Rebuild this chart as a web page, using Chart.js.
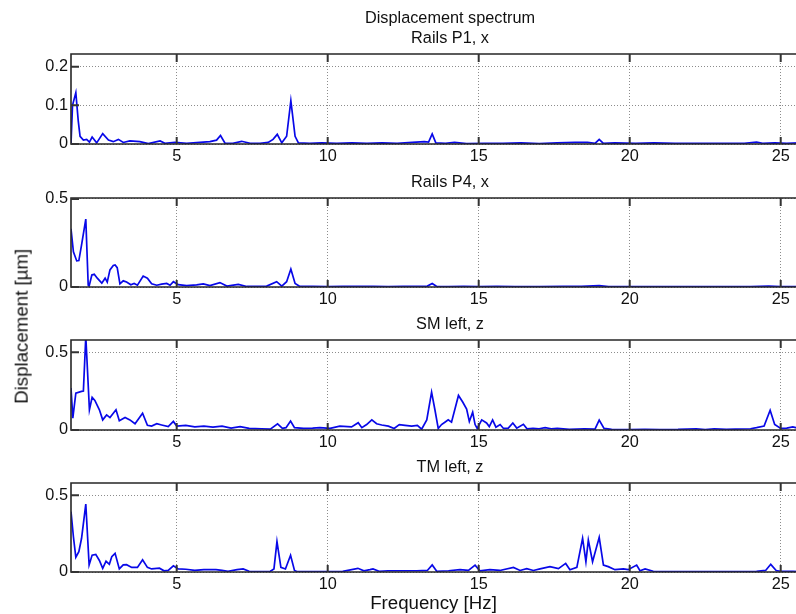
<!DOCTYPE html>
<html>
<head>
<meta charset="utf-8">
<script src="https://cdn.jsdelivr.net/npm/chart.js@4.4.1/dist/chart.umd.min.js"></script>
<style>
html, body { margin: 0; padding: 0; width: 796px; height: 614px; overflow: hidden; background: #fff; }
canvas { position: absolute; left: 0; }
.lbl { position: absolute; font-family: 'Liberation Sans', Arial, sans-serif; font-size: 18.7px; line-height: 1; color: #111; white-space: nowrap; text-align: center; width: 300px; }
</style>
</head>
<body>
<canvas id="p1"></canvas>
<canvas id="p2"></canvas>
<canvas id="p3"></canvas>
<canvas id="p4"></canvas>
<div class="lbl" style="left:283.5px; top:594px;">Frequency [Hz]</div>
<div class="lbl" style="left:-128.5px; top:316.65px; transform:rotate(-90deg);">Displacement [µm]</div>
<script>
// frequency grid ticks
var xTicks = [5, 10, 15, 20, 25];

// Rails P1, x
var freq1 = [1.5, 1.55, 1.66, 1.74, 1.8, 1.91, 2.02, 2.11, 2.2, 2.35, 2.55, 2.74, 2.9, 3.07, 3.23, 3.45, 3.78, 4.06, 4.45, 4.61,
    4.94, 5.33, 5.77, 6.1, 6.32, 6.45, 6.6, 6.86, 7.15, 7.43, 7.76, 8.03, 8.19, 8.33, 8.48, 8.64, 8.78, 8.92, 9.03, 9.4,
    9.8, 10.3, 10.8, 11.3, 11.8, 12.3, 12.8, 13.2, 13.34, 13.46, 13.58, 13.9, 14.2, 14.6, 15.2, 15.8, 16.4, 17.0, 17.6, 18.2,
    18.6, 18.86, 18.99, 19.12, 19.5, 20.2, 20.8, 21.5, 22.2, 23.0, 23.8, 24.2, 24.4, 24.8, 25.2, 25.6];
var disp1 = [0.0, 0.1, 0.133, 0.06, 0.02, 0.01, 0.012, 0.005, 0.018, 0.003, 0.027, 0.01, 0.006, 0.012, 0.004, 0.008, 0.006, 0.001, 0.008, 0.002,
    0.004, 0.002, 0.004, 0.006, 0.01, 0.022, 0.002, 0.002, 0.007, 0.002, 0.002, 0.004, 0.012, 0.025, 0.003, 0.02, 0.112, 0.02, 0.003, 0.002,
    0.003, 0.002, 0.003, 0.002, 0.003, 0.002, 0.004, 0.006, 0.005, 0.026, 0.003, 0.002, 0.004, 0.001, 0.002, 0.002, 0.003, 0.001, 0.003, 0.004,
    0.004, 0.002, 0.012, 0.002, 0.003, 0.002, 0.003, 0.002, 0.002, 0.002, 0.002, 0.005, 0.002, 0.003, 0.002, 0.003];

// Rails P4, x
var freq2 = [1.5, 1.58, 1.69, 1.76, 1.85, 1.99, 2.07, 2.1, 2.19, 2.27, 2.37, 2.52, 2.63, 2.7, 2.79, 2.9, 2.96, 3.03, 3.12, 3.23,
    3.34, 3.48, 3.59, 3.7, 3.89, 4.03, 4.17, 4.34, 4.5, 4.67, 4.78, 4.89, 5.05, 5.33, 5.66, 5.88, 6.1, 6.43, 6.66, 7.04,
    7.32, 7.98, 8.31, 8.48, 8.64, 8.78, 8.92, 9.08, 9.5, 10.0, 10.5, 11.0, 11.5, 12.0, 12.5, 13.0, 13.3, 13.46, 13.6, 14.0,
    14.5, 15.0, 15.6, 16.2, 17.0, 17.8, 18.4, 18.99, 19.3, 20.0, 21.0, 22.0, 23.0, 24.0, 24.6, 25.0, 25.6];
var disp2 = [0.33, 0.2, 0.148, 0.15, 0.239, 0.385, 0.01, 0.005, 0.068, 0.072, 0.05, 0.022, 0.05, 0.028, 0.097, 0.122, 0.125, 0.11, 0.018, 0.035,
    0.028, 0.013, 0.02, 0.01, 0.062, 0.05, 0.018, 0.01, 0.016, 0.02, 0.01, 0.03, 0.013, 0.008, 0.012, 0.018, 0.008, 0.025, 0.005, 0.015,
    0.003, 0.005, 0.03, 0.005, 0.03, 0.102, 0.02, 0.003, 0.004, 0.002, 0.003, 0.004, 0.003, 0.002, 0.003, 0.004, 0.005, 0.02, 0.004, 0.002,
    0.003, 0.002, 0.003, 0.002, 0.002, 0.003, 0.003, 0.008, 0.002, 0.002, 0.002, 0.002, 0.002, 0.002, 0.005, 0.002, 0.002];

// SM left, z
var freq3 = [1.5, 1.56, 1.66, 1.85, 1.91, 1.99, 2.02, 2.11, 2.2, 2.29, 2.44, 2.55, 2.68, 2.79, 2.99, 3.1, 3.29, 3.45, 3.62, 3.87,
    4.03, 4.17, 4.34, 4.5, 4.72, 4.89, 5.0, 5.3, 5.6, 5.9, 6.2, 6.5, 6.8, 7.1, 7.4, 7.8, 8.1, 8.34, 8.5, 8.62,
    8.77, 8.9, 9.2, 9.5, 9.74, 10.08, 10.4, 10.79, 11.01, 11.13, 11.29, 11.46, 11.62, 11.79, 12.01, 12.2, 12.37, 12.56, 12.78, 12.97,
    13.11, 13.28, 13.44, 13.55, 13.66, 13.77, 13.88, 13.99, 14.1, 14.33, 14.47, 14.6, 14.69, 14.8, 14.88, 14.95, 15.1, 15.26, 15.35, 15.46,
    15.57, 15.71, 15.82, 15.98, 16.13, 16.26, 16.48, 16.6, 16.8, 17.0, 17.2, 17.4, 17.6, 18.0, 18.5, 18.85, 18.99, 19.15, 19.4, 20.0,
    20.5, 21.0, 21.6, 22.2, 22.5, 22.8, 23.2, 23.5, 24.0, 24.2, 24.45, 24.65, 24.8, 25.0, 25.2, 25.4, 25.6];
var disp3 = [0.27, 0.076, 0.237, 0.248, 0.25, 0.6, 0.485, 0.13, 0.21, 0.19, 0.13, 0.065, 0.097, 0.08, 0.13, 0.06, 0.08, 0.065, 0.04, 0.108,
    0.03, 0.025, 0.04, 0.032, 0.022, 0.055, 0.025, 0.03, 0.02, 0.025, 0.018, 0.025, 0.012, 0.022, 0.01, 0.008, 0.006, 0.04, 0.01, 0.015,
    0.058, 0.015, 0.01, 0.012, 0.015, 0.01, 0.025, 0.02, 0.047, 0.015, 0.035, 0.065, 0.04, 0.032, 0.025, 0.01, 0.035, 0.03, 0.025, 0.03,
    0.005, 0.065, 0.243, 0.13, 0.01, 0.035, 0.05, 0.065, 0.05, 0.222, 0.18, 0.135, 0.055, 0.114, 0.035, 0.01, 0.065, 0.045, 0.022, 0.065,
    0.018, 0.035, 0.01, 0.012, 0.045, 0.012, 0.037, 0.008, 0.01, 0.008, 0.015, 0.008, 0.01, 0.004, 0.008, 0.005, 0.063, 0.01, 0.004, 0.003,
    0.004, 0.003, 0.004, 0.008, 0.003, 0.008, 0.004, 0.006, 0.008, 0.015, 0.025, 0.127, 0.035, 0.01, 0.012, 0.02, 0.01];

// TM left, z
var freq4 = [1.5, 1.58, 1.66, 1.76, 1.85, 1.99, 2.1, 2.2, 2.32, 2.44, 2.55, 2.66, 2.77, 2.85, 2.96, 3.1, 3.23, 3.34, 3.51, 3.7,
    3.87, 4.03, 4.17, 4.43, 4.58, 4.72, 4.89, 5.05, 5.3, 5.6, 5.9, 6.3, 6.5, 6.7, 7.0, 7.2, 7.4, 7.8, 8.1, 8.22,
    8.32, 8.45, 8.6, 8.77, 8.9, 9.0, 9.5, 10.0, 10.5, 11.0, 11.2, 11.4, 11.5, 11.7, 12.0, 12.4, 12.95, 13.3, 13.46, 13.61,
    14.0, 14.38, 14.66, 14.88, 15.04, 15.37, 15.7, 16.15, 16.37, 16.59, 16.81, 17.03, 17.36, 17.64, 17.88, 18.02, 18.25, 18.44, 18.55, 18.63,
    18.77, 18.99, 19.13, 19.29, 19.51, 19.79, 19.95, 20.23, 20.34, 20.51, 20.78, 21.2, 22.0, 22.8, 23.5, 24.2, 24.5, 24.67, 24.85, 25.0,
    25.4, 25.6];
var disp4 = [0.393, 0.23, 0.096, 0.132, 0.22, 0.443, 0.046, 0.11, 0.115, 0.075, 0.024, 0.07, 0.05, 0.1, 0.122, 0.02, 0.046, 0.048, 0.03, 0.03,
    0.08, 0.03, 0.02, 0.025, 0.008, 0.01, 0.04, 0.02, 0.018, 0.01, 0.015, 0.015, 0.01, 0.005, 0.015, 0.02, 0.005, 0.003, 0.005, 0.02,
    0.198, 0.03, 0.02, 0.109, 0.01, 0.002, 0.002, 0.002, 0.004, 0.024, 0.008, 0.015, 0.02, 0.005, 0.008, 0.008, 0.008, 0.01, 0.046, 0.005,
    0.008, 0.015, 0.01, 0.045, 0.008, 0.015, 0.01, 0.03, 0.01, 0.022, 0.01, 0.02, 0.035, 0.022, 0.056, 0.015, 0.03, 0.22, 0.067, 0.208,
    0.067, 0.226, 0.045, 0.035, 0.015, 0.02, 0.015, 0.045, 0.008, 0.02, 0.005, 0.003, 0.003, 0.002, 0.003, 0.004, 0.01, 0.05, 0.01, 0.005,
    0.005, 0.003];

var titles = [['Displacement spectrum', 'Rails P1, x'], 'Rails P4, x', 'SM left, z', 'TM left, z'];
var yTicks = [[0, 0.1, 0.2], [0, 0.5], [0, 0.5], [0, 0.5]];
var yMax = [0.233, 0.505, 0.578, 0.58];
var xMin = 1.5, xMax = 28.95;

// layout of the four axes boxes (pixels in the page)
var plotTop = [54, 198, 340, 483];
var plotBottom = [144, 287, 430, 572];
var fontFamily = "'Liberation Sans', Arial, sans-serif";

var framePlugin = {
    id: 'frame',
    afterDraw: function (chart) {
        var a = chart.chartArea, ctx = chart.ctx;
        var xs = chart.scales.x, ys = chart.scales.y;
        ctx.save();
        ctx.strokeStyle = '#262626';
        ctx.lineWidth = 1.6;
        ctx.beginPath();
        ctx.moveTo(a.right, a.top);
        ctx.lineTo(a.left, a.top);
        ctx.lineTo(a.left, a.bottom);
        ctx.lineTo(a.right, a.bottom);
        ctx.stroke();
        // inward ticks, matlab style
        ctx.lineWidth = 2;
        ctx.strokeStyle = '#333';
        ctx.beginPath();
        xs.ticks.forEach(function (t) {
            var px = xs.getPixelForValue(t.value);
            ctx.moveTo(px, a.bottom); ctx.lineTo(px, a.bottom - 7);
            ctx.moveTo(px, a.top); ctx.lineTo(px, a.top + 8);
        });
        ys.ticks.forEach(function (t) {
            var py = ys.getPixelForValue(t.value);
            ctx.moveTo(a.left, py); ctx.lineTo(a.left + 8, py);
        });
        ctx.stroke();
        ctx.restore();
    }
};

function panel(id, i, freq, disp) {
    var lines = Array.isArray(titles[i]) ? titles[i].length : 1;
    var titleH = lines * 20 + 5.5;
    var top = Math.floor(plotTop[i] - titleH);
    var padTop = plotTop[i] - titleH - top;
    var axisH = 26;
    var cv = document.getElementById(id);
    cv.width = 900;
    cv.height = plotBottom[i] - top + axisH;
    cv.style.top = top + 'px';

    var tickFont = { family: fontFamily, size: 16.3 };
    return new Chart(cv, {
        type: 'line',
        data: {
            datasets: [{
                data: freq.map(function (f, k) { return { x: f, y: disp[k] }; }),
                borderColor: '#0808e8',
                borderWidth: 1.7,
                pointRadius: 0,
                fill: false,
                tension: 0
            }]
        },
        options: {
            responsive: false,
            animation: false,
            layout: { padding: { top: padTop, left: 0, right: 0, bottom: 0 } },
            plugins: {
                legend: { display: false },
                tooltip: { enabled: false },
                title: {
                    display: true,
                    text: titles[i],
                    color: '#111',
                    font: { family: fontFamily, size: 16.3, weight: 'normal', lineHeight: 20 / 16.3 },
                    padding: { top: 0, bottom: 5.5 }
                }
            },
            scales: {
                x: {
                    type: 'linear',
                    min: xMin,
                    max: xMax,
                    afterBuildTicks: function (s) { s.ticks = xTicks.map(function (v) { return { value: v }; }); },
                    afterFit: function (s) { s.height = axisH; },
                    grid: { color: '#8c8c8c', lineWidth: 1, drawTicks: false },
                    border: { display: false, dash: [1, 2] },
                    ticks: { padding: 3, font: tickFont, color: '#111', maxRotation: 0, autoSkip: false }
                },
                y: {
                    min: 0,
                    max: yMax[i],
                    afterBuildTicks: function (s) { s.ticks = yTicks[i].map(function (v) { return { value: v }; }); },
                    afterFit: function (s) { s.width = 71; },
                    grid: { color: '#8c8c8c', lineWidth: 1, drawTicks: false },
                    border: { display: false, dash: [1, 2] },
                    ticks: { padding: 3, font: tickFont, color: '#111' }
                }
            }
        },
        plugins: [framePlugin]
    });
}

panel('p1', 0, freq1, disp1);
panel('p2', 1, freq2, disp2);
panel('p3', 2, freq3, disp3);
panel('p4', 3, freq4, disp4);
</script>
</body>
</html>
